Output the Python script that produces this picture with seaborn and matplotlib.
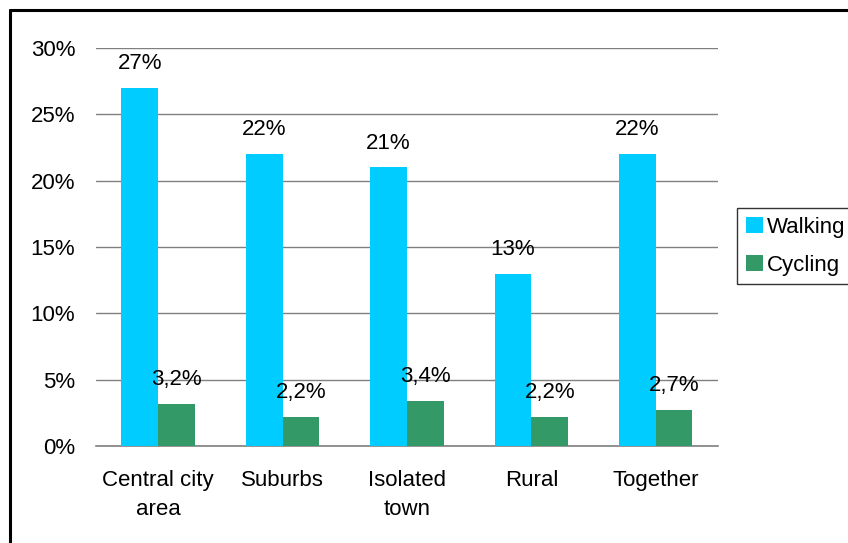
import matplotlib
matplotlib.use("Agg")
import matplotlib.pyplot as plt
from matplotlib.lines import Line2D
from matplotlib.patches import Patch
import seaborn as sns
import pandas as pd

categories = ["Central city\narea", "Suburbs", "Isolated\ntown", "Rural", "Together"]
walking = [27, 22, 21, 13, 22]
cycling = [3.2, 2.2, 3.4, 2.2, 2.7]
series_names = ["Walking", "Cycling"]
y_ticks = [0, 5, 10, 15, 20, 25, 30]

colors = {"Walking": "#00CCFF", "Cycling": "#339966"}
FS = 16

df = pd.DataFrame({
    "area": categories * 2,
    "mode": [series_names[0]] * len(categories) + [series_names[1]] * len(categories),
    "share": walking + cycling,
})

sns.set_style("white")
plt.rcParams["font.family"] = ["Liberation Sans", "DejaVu Sans"]
plt.rcParams["text.color"] = "black"
plt.rcParams["xtick.color"] = "black"
plt.rcParams["ytick.color"] = "black"

fig = plt.figure(figsize=(8.48, 5.43), dpi=100)
ax = fig.add_axes([0.1132, 0.1786, 0.7335, 0.733])

sns.barplot(data=df, x="area", y="share", hue="mode", order=categories,
            hue_order=series_names, palette=colors, width=0.59, gap=0,
            saturation=1, ax=ax, legend=False, zorder=3)
for p in ax.patches:
    p.set_edgecolor("none")

ax.set_ylim(0, 30)
ax.set_xlim(-0.5, len(categories) - 0.5)
ax.set_yticks(y_ticks)
ax.set_yticklabels([f"{t}%" for t in y_ticks], fontsize=FS)
ax.tick_params(axis="y", length=0, pad=15, labelcolor="black")
ax.yaxis.grid(True, color="#808080", linewidth=1)
ax.set_axisbelow(True)

# category boundaries as major ticks, names on minor ticks
ax.set_xticks([i - 0.5 for i in range(len(categories) + 1)])
ax.set_xticklabels([])
ax.tick_params(axis="x", which="major", length=6, width=1, color="#808080", direction="out")
ax.set_xticks(range(len(categories)), minor=True)
ax.set_xticklabels(categories, minor=True, fontsize=FS, linespacing=1.5)
ax.tick_params(axis="x", which="minor", length=0, pad=17, labelcolor="black")

for side in ["left", "right", "top"]:
    ax.spines[side].set_visible(False)
ax.spines["bottom"].set_color("#808080")
ax.spines["bottom"].set_linewidth(1.2)
ax.set_xlabel("")
ax.set_ylabel("")

containers = ax.containers
ax.bar_label(containers[0], labels=[f"{v:.0f}%" for v in walking], padding=10,
             fontsize=FS, color="black")
ax.bar_label(containers[1], labels=[f"{v:.1f}".replace(".", ",") + "%" for v in cycling],
             padding=10, fontsize=FS, color="black")

handles = [Patch(facecolor=colors[n], edgecolor="none") for n in series_names]
leg = fig.legend(handles, series_names, loc="upper left", bbox_to_anchor=(737 / 848, 1 - 208 / 543),
                 fontsize=FS, frameon=True, fancybox=False, edgecolor="black",
                 handlelength=0.75, handleheight=0.75, handletextpad=0.2,
                 borderpad=0.4, labelspacing=0.75, borderaxespad=0)
leg.get_frame().set_linewidth(1)

# outer chart frame
fig.add_artist(Line2D([9.5 / 848, 9.5 / 848], [0, 1 - 9.5 / 543], transform=fig.transFigure,
                      color="black", linewidth=2.2))
fig.add_artist(Line2D([9.5 / 848, 1], [1 - 9.5 / 543, 1 - 9.5 / 543], transform=fig.transFigure,
                      color="black", linewidth=2.2))

fig.savefig("out.png", dpi=100)
